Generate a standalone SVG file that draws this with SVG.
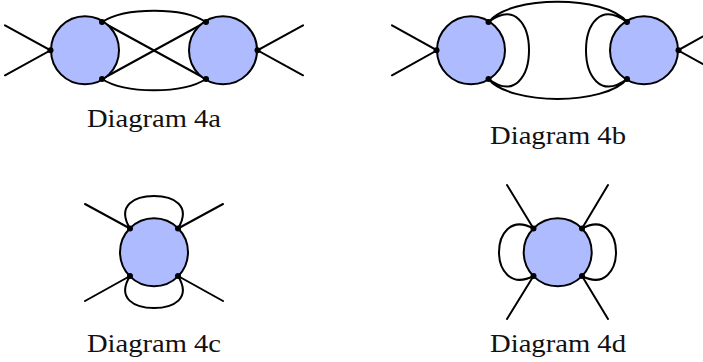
<svg xmlns="http://www.w3.org/2000/svg" width="703" height="362" viewBox="0 0 703 362">
<style>
.c{fill:#aebcff;stroke:#000;stroke-width:2}
.l{fill:none;stroke:#000;stroke-width:2;stroke-linecap:round}
.d{fill:#000}
.t{font-family:"Liberation Serif",serif;font-size:25px;fill:#111;text-anchor:start}
</style>
<g id="connectors" class="l">
<path class="l" d="M5 25.300L50.500 50.300L5 75.300M303 25.300L257.500 50.300L303 75.300M102 22L206 79M102 79L206 22M102 22C125 7 183 7 206 22M102 79C125 94 183 94 206 79"/>
<path class="l" d="M392 25.300L437 50.300L392 75.300M723 25.300L678 50.300L723 75.300M488.500 22C510 -5 605 -5 627 22M488.500 79C510 105.500 605 105.500 627 79M488.500 22C515 2 529 25 529 50.300C529 75 515 99 488.500 79M627 22C600 2 586 25 586 50.300C586 75 600 99 627 79"/>
<path class="l" d="M85 204L130 228.500M223 204L178 228.500M85 301L130 276M223 301L178 276M130 228.500C116 205 135 196 154 196C173 196 192 205 178 228.500M130 276C116 299 135 308 154 308C173 308 192 299 178 276"/>
<path class="l" d="M507 185L533.500 228.500M608 185L582 228.500M507 319L533.500 276M608 319L582 276M533.500 228.500C510 216 499 235 499 252.300C499 269 510 288 533.500 276M582 228.500C605 216 616 235 616 252.300C616 269 605 288 582 276"/>
</g>
<g id="d4a-left"><circle class="c" cx="85" cy="50.300" r="34"/><circle class="d" cx="50.500" cy="50.300" r="3"/><circle class="d" cx="102" cy="22" r="3"/><circle class="d" cx="102" cy="79" r="3"/></g>
<g id="d4a-right"><circle class="c" cx="223" cy="50.300" r="34"/><circle class="d" cx="257.500" cy="50.300" r="3"/><circle class="d" cx="206" cy="22" r="3"/><circle class="d" cx="206" cy="79" r="3"/></g>
<g id="d4b-left"><circle class="c" cx="471" cy="50.300" r="34"/><circle class="d" cx="436.500" cy="50.300" r="3"/><circle class="d" cx="488.500" cy="22" r="3"/><circle class="d" cx="488.500" cy="79" r="3"/></g>
<g id="d4b-right"><circle class="c" cx="644" cy="50.300" r="34"/><circle class="d" cx="678.500" cy="50.300" r="3"/><circle class="d" cx="627" cy="22" r="3"/><circle class="d" cx="627" cy="79" r="3"/></g>
<g id="d4c"><circle class="c" cx="154" cy="252.300" r="34"/><circle class="d" cx="130" cy="228.500" r="3"/><circle class="d" cx="178" cy="228.500" r="3"/><circle class="d" cx="130" cy="276" r="3"/><circle class="d" cx="178" cy="276" r="3"/></g>
<g id="d4d"><circle class="c" cx="557.700" cy="252.300" r="34"/><circle class="d" cx="533.500" cy="228.500" r="3"/><circle class="d" cx="582" cy="228.500" r="3"/><circle class="d" cx="533.500" cy="276" r="3"/><circle class="d" cx="582" cy="276" r="3"/></g>
<text class="t" x="87" y="127" textLength="134" lengthAdjust="spacingAndGlyphs">Diagram 4a</text>
<text class="t" x="490" y="143.500" textLength="136" lengthAdjust="spacingAndGlyphs">Diagram 4b</text>
<text class="t" x="87" y="351.500" textLength="134" lengthAdjust="spacingAndGlyphs">Diagram 4c</text>
<text class="t" x="490" y="351.500" textLength="136" lengthAdjust="spacingAndGlyphs">Diagram 4d</text>
</svg>
